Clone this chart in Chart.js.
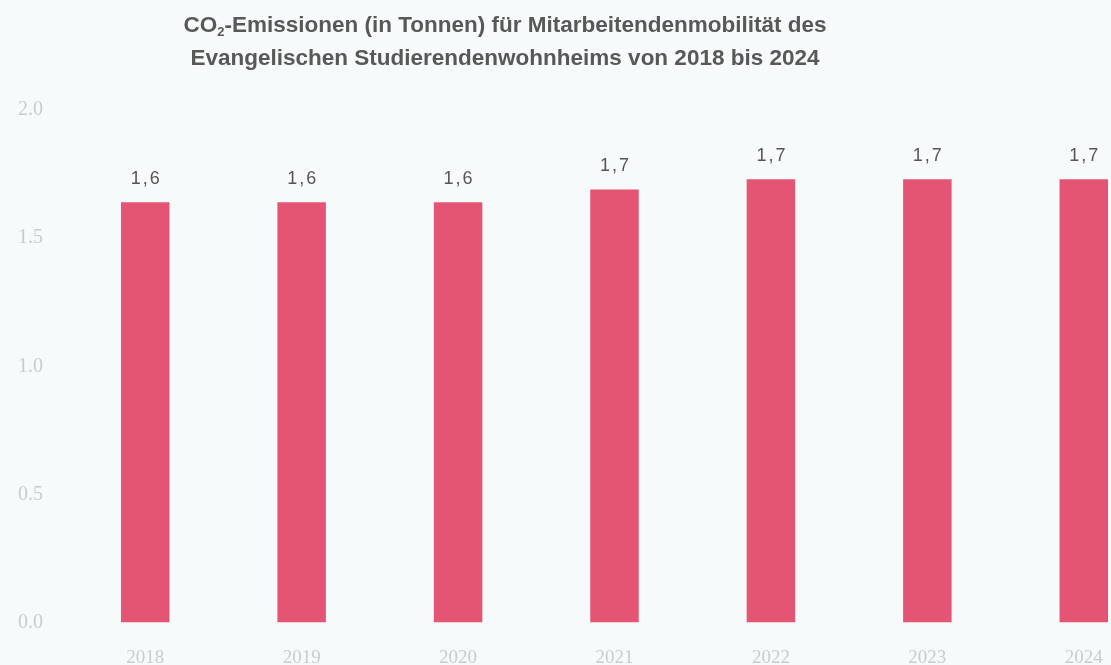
<!DOCTYPE html>
<html>
<head>
<meta charset="utf-8">
<script src="https://cdn.jsdelivr.net/npm/chart.js@4/dist/chart.umd.min.js"></script>
<style>
  html, body { margin: 0; padding: 0; background: #f7fafa; overflow: hidden; }
  #wrap { position: relative; width: 1170px; height: 665px; }
  #title {
    position: absolute; left: 0; top: 8px; width: 1010px;
    text-align: center; font-family: "Liberation Sans", Arial, sans-serif;
    font-size: 22.5px; font-weight: bold; line-height: 33px; color: #585858;
  }
  #title sub { font-size: 13px; vertical-align: -4px; line-height: 0; }
</style>
</head>
<body>
<div id="wrap">
  <div id="title">CO<sub>2</sub>-Emissionen (in Tonnen) für Mitarbeitendenmobilität des<br>Evangelischen Studierendenwohnheims von 2018 bis 2024</div>
  <canvas id="myChart" width="1170" height="665"></canvas>
</div>
<script>
// data
var years = ["2018", "2019", "2020", "2021", "2022", "2023", "2024"];
var emissions = [1.64, 1.64, 1.64, 1.69, 1.73, 1.73, 1.73];
var yTicks = [0, 0.5, 1.0, 1.5, 2.0];

//value labels over the bars
var barLabels = {
  id: 'barLabels',
  afterDatasetsDraw: function (chart) {
    var ctx = chart.ctx;
    var meta = chart.getDatasetMeta(0);
    ctx.save();
    ctx.font = '18px "Liberation Sans", Arial, sans-serif';
    ctx.fillStyle = '#555';
    ctx.textAlign = 'center';
    ctx.textBaseline = 'middle';
    ctx.letterSpacing = '2px';
    meta.data.forEach(function (bar, i) {
      var txt = emissions[i].toLocaleString('de-DE', { minimumFractionDigits: 1, maximumFractionDigits: 1 });
      ctx.fillText(txt, bar.x + 1, bar.y - 23);
    });
    ctx.restore();
  }
};

var ctx = document.getElementById('myChart').getContext('2d');
var chart = new Chart(ctx, {
  type: 'bar',
  data: {
    labels: years,
    datasets: [{
      label: 'CO2',
      data: emissions,
      backgroundColor: 'rgb(228, 84, 115)',
      borderWidth: 0,
      barPercentage: 0.31,
      categoryPercentage: 1
    }]
  },
  options: {
    responsive: false,
    animation: false,
    layout: { padding: { top: 110, right: 8, left: 0, bottom: 0 } },
    plugins: {
      legend: { display: false },
      tooltip: { enabled: false }
    },
    scales: {
      x: {
        grid: { display: false, drawTicks: false },
        border: { display: false },
        ticks: {
          color: '#c8cccc',
          font: { family: '"Liberation Serif", serif', size: 19 },
          padding: 24,
          maxRotation: 0
        },
        afterFit: function (scale) { scale.height = 42.5; }
      },
      y: {
        min: 0,
        max: 2,
        grid: { display: false, drawTicks: false },
        border: { display: false },
        afterBuildTicks: function (scale) {
          scale.ticks = yTicks.map(function (v) { return { value: v }; });
        },
        ticks: {
          color: '#c8cccc',
          font: { family: '"Liberation Serif", serif', size: 20 },
          padding: 24,
          callback: function (v) { return Number(v).toFixed(1); }
        },
        afterFit: function (scale) { scale.width = 67; }
      }
    }
  },
  plugins: [barLabels]
});
</script>
</body>
</html>
